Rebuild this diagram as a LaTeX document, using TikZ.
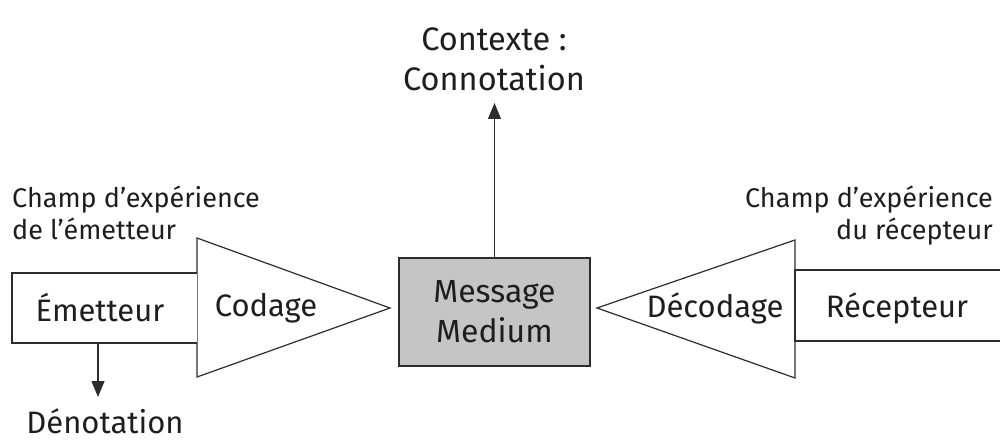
\documentclass[tikz,border=0pt]{standalone}
\usepackage{fontspec}
\setmainfont{Fira Sans}
\usetikzlibrary{arrows.meta}
\definecolor{ln}{RGB}{45,45,45}
\definecolor{txt}{RGB}{30,30,30}
\definecolor{msgfill}{RGB}{196,197,196}
\tikzset{
  shapeline/.style={draw=ln, line width=1.2pt},
  bigtxt/.style={text=txt, font=\fontsize{31}{40}\selectfont, inner sep=0pt},
  smalltxt/.style={text=txt, font=\fontsize{27}{32}\selectfont, inner sep=0pt},
  arr/.style={draw=ln, line width=1.2pt, -{Triangle[width=13pt,length=16pt]}},
}
\begin{document}
\begin{tikzpicture}[x=1pt,y=1pt]
\useasboundingbox (0,0) rectangle (1000,442);
% Codage triangle (left)
\draw[shapeline, fill=white] (197,204) -- (390,134) -- (197,65) -- cycle;
% Emetteur box
\draw[shapeline, fill=white] (197,169) -- (12,169) -- (12,99) -- (197,99);
% Decodage triangle (right)
\draw[shapeline, fill=white] (795,202) -- (597,134) -- (795,64) -- cycle;
% Recepteur box (open at the right edge)
\draw[shapeline] (1002,172) -- (795,172) -- (795,101) -- (1002,101);
% Message box
\node[shapeline, fill=msgfill, minimum width=191pt, minimum height=108pt,
      inner sep=0pt, align=center, text=txt, font=\fontsize{32}{40}\selectfont]
      (msg) at (494.5,130) {Message\\Medium};
% labels
\node[bigtxt] (emet) at (100,134) {Émetteur};
\node[bigtxt] (cod) at (266,134) {Codage};
\node[bigtxt] (decod) at (715,134) {Décodage};
\node[bigtxt] (recep) at (897,134) {Récepteur};
\node[text=txt, inner sep=0pt, font=\fontsize{32.5}{40}\selectfont, align=center, anchor=south] (ctx) at (494,351) {Contexte :\\Connotation};
\node[bigtxt, anchor=base] (deno) at (105,9) {Dénotation};
\node[smalltxt, align=left, anchor=north west] (champE) at (12,256) {Champ d’expérience\\de l’émetteur};
\node[smalltxt, align=right, anchor=north east] (champR) at (993,256) {Champ d’expérience\\du récepteur};
% arrows
\coordinate (deTop) at (98,99);
\coordinate (deTip) at (98,45);
\draw[arr] (deTop) -- (deTip);
\coordinate (ctxTip) at (msg.north |- 0,339);
\draw[arr] (msg.north) -- (ctxTip);
\end{tikzpicture}
\end{document}
